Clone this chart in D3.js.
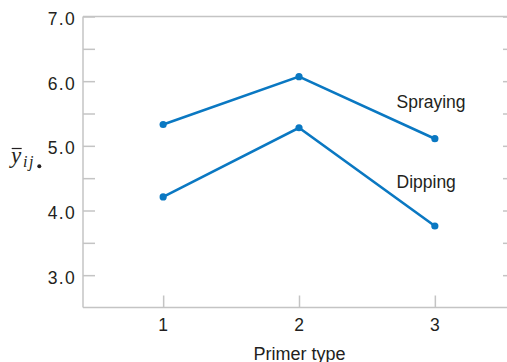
<!DOCTYPE html>
<html><head><meta charset="utf-8">
<script src="https://cdn.jsdelivr.net/npm/d3@7"></script>
<style>
body{margin:0;background:#fff;}
svg{display:block;}
text{font-family:"Liberation Sans",Arial,sans-serif;fill:#231f20;}
</style></head><body>
<svg id="c" width="507" height="362"></svg>
<script>
const primerTypes = [1, 2, 3];
const spraying = [5.33, 6.07, 5.11];
const dipping = [4.21, 5.28, 3.76];
const yTicks = [3, 4, 5, 6, 7];
const yMinorTicks = [3, 3.5, 4, 4.5, 5, 5.5, 6, 6.5, 7];
const seriesNames = ["Spraying", "Dipping"];

const svg = d3.select("#c");
const x = d3.scaleLinear().domain([0.41, 3.59]).range([83, 515]);
const y = d3.scaleLinear().domain([2.5, 7]).range([307.5, 16.5]);
const axisColor = "#c4c4c4";
const blue = "#0a78c2";

// frame lines
svg.append("line").attr("x1", x(0.41)).attr("x2", 507).attr("y1", y(7)).attr("y2", y(7))
  .attr("stroke", axisColor).attr("stroke-width", 1.5);
svg.append("line").attr("x1", x(0.41)).attr("x2", 507).attr("y1", y(2.5)).attr("y2", y(2.5))
  .attr("stroke", axisColor).attr("stroke-width", 1.5);
svg.append("line").attr("x1", x(0.41)).attr("x2", x(0.41)).attr("y1", y(7)).attr("y2", y(2.5))
  .attr("stroke", axisColor).attr("stroke-width", 1.5);

// left axis ticks (inward)
const yl = svg.append("g").attr("transform", `translate(${x(0.41)},0)`)
  .call(d3.axisRight(y).tickValues(yMinorTicks).tickSize(12).tickFormat(""));
yl.select(".domain").remove();
yl.selectAll("line").attr("stroke", axisColor).attr("stroke-width", 1.5);

// right axis ticks (inward)
const yr = svg.append("g").attr("transform", `translate(${x(3.59)},0)`)
  .call(d3.axisLeft(y).tickValues(yMinorTicks).tickSize(12).tickFormat(""));
yr.select(".domain").remove();
yr.selectAll("line").attr("stroke", axisColor).attr("stroke-width", 1.5);

// y labels
svg.append("g").selectAll("text").data(yTicks).join("text")
  .attr("x", 76).attr("y", d => y(d) + 8.5)
  .attr("text-anchor", "end").attr("font-size", 17.5).attr("letter-spacing", 1.3)
  .text(d => d.toFixed(1));

// x ticks (inward)
const xa = svg.append("g").attr("transform", `translate(0,${y(2.5)})`)
  .call(d3.axisTop(x).tickValues(primerTypes).tickSize(12).tickFormat(""));
xa.select(".domain").remove();
xa.selectAll("line").attr("stroke", axisColor).attr("stroke-width", 1.5);

svg.append("g").selectAll("text").data(primerTypes).join("text")
  .attr("x", d => x(d)).attr("y", 330.5)
  .attr("text-anchor", "middle").attr("font-size", 17.5)
  .text(d => d);

svg.append("text").attr("x", 299.5).attr("y", 359.5)
  .attr("text-anchor", "middle").attr("font-size", 18).text("Primer type");

// y axis label: y-bar sub ij dot
const yl2 = svg.append("g");
yl2.append("text").attr("x", 11).attr("y", 163)
  .style("font-family", "'Liberation Serif','Times New Roman',serif")
  .style("font-style", "italic").attr("font-size", 23).text("y");
yl2.append("line").attr("x1", 11.7).attr("x2", 21.7).attr("y1", 148.5).attr("y2", 148.5)
  .attr("stroke", "#231f20").attr("stroke-width", 1.2);
yl2.append("text").attr("x", 23).attr("y", 167)
  .style("font-family", "'Liberation Serif','Times New Roman',serif")
  .style("font-style", "italic").attr("font-size", 16).attr("letter-spacing", 1.5).text("ij");
yl2.append("circle").attr("cx", 39.3).attr("cy", 166.3).attr("r", 2).attr("fill", "#231f20");

// series
const line = d3.line().x((d, i) => x(primerTypes[i])).y(d => y(d));
[spraying, dipping].forEach(s => {
  svg.append("path").datum(s).attr("d", line).attr("fill", "none")
    .attr("stroke", blue).attr("stroke-width", 2.6);
  svg.append("g").selectAll("circle").data(s).join("circle")
    .attr("cx", (d, i) => x(primerTypes[i])).attr("cy", d => y(d)).attr("r", 3.6)
    .attr("fill", blue);
});

// series labels
svg.append("text").attr("x", 396.5).attr("y", 108.3)
  .attr("font-size", 17.5).text(seriesNames[0]);
svg.append("text").attr("x", 396.5).attr("y", 188)
  .attr("font-size", 17.5).text(seriesNames[1]);
</script>
</body></html>
